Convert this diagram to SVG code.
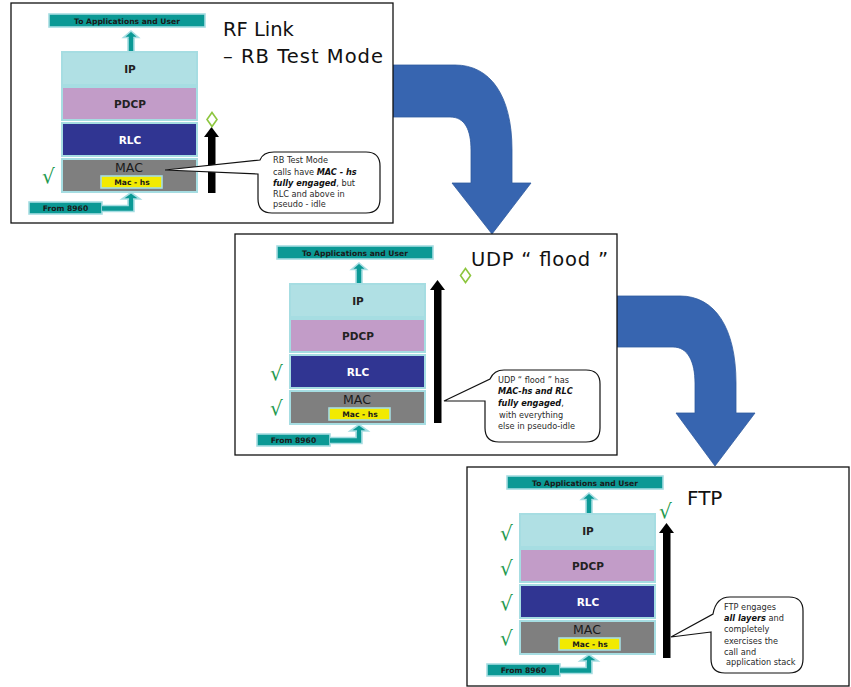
<svg xmlns="http://www.w3.org/2000/svg" width="851" height="687" viewBox="0 0 851 687">
<style>
.panel{fill:#fff;stroke:#111;stroke-width:1.3}
.teal{fill:#0b9995;stroke:#a6dde2;stroke-width:1.6}
.ip{fill:#b0e0e4;stroke:#a6dde2;stroke-width:2}
.pdcp{fill:#c29cc8;stroke:#a6dde2;stroke-width:2}
.rlc{fill:#303592;stroke:#a6dde2;stroke-width:2}
.mac{fill:#7f7f7f;stroke:#a6dde2;stroke-width:2}
.machs{fill:#f2ea00;stroke:#a6dde2;stroke-width:1.6}
.t{font-family:"DejaVu Sans","Liberation Sans",sans-serif}
.small{font-size:7.6px;font-weight:bold;fill:#1a1a1a;text-anchor:middle}
.layer{font-size:10.5px;font-weight:bold;fill:#222;text-anchor:middle}
.layerw{font-size:10.5px;font-weight:bold;fill:#fff;text-anchor:middle}
.macl{font-size:12.5px;fill:#1a1a1a;text-anchor:middle}
.title{font-size:19.5px;fill:#111}
.co{font-size:8.2px;fill:#2a2a2a}
.bi{font-weight:bold;font-style:italic;fill:#111}
.chk{font-family:"DejaVu Sans",sans-serif;font-size:20px;fill:#1f9a4f}
.callout{fill:#fff;stroke:#111;stroke-width:1.2}
.blk{fill:#000}
.big{fill:#3765b0;stroke:#2f5a9e;stroke-width:0.8}
.dia{fill:none;stroke:#8dc63f;stroke-width:1.6}
.link{fill:none;stroke-linejoin:miter}
</style>

<!-- big curved arrows (behind panels) -->
<g id="connectors">
<path class="big" d="M393,65 L455,65 C490,65 512,95 512,150 L512,183 L531,183 L492,234 L452,183 L471,183 L471,150 C471,130 465,117 450,117 L393,117 Z"/>
<path class="big" d="M617,296 L680,296 C715,296 736,328 736,383 L736,413 L755,413 L715,466 L676,413 L695,413 L695,383 C695,362 688,347 673,347 L617,347 Z"/>
</g>

<!-- PANEL 1 -->
<g id="panel1">
<rect class="panel" x="11" y="3" width="382" height="220"/>
<g id="p1-stack">
  <g id="p1-apps"><rect class="teal" x="49" y="14" width="156" height="13"/><text class="t small" x="127" y="23.5">To Applications and User</text></g>
  <g id="p1-uparrow"><rect class="teal" x="128" y="37" width="6" height="15"/><polygon class="teal" points="123.5,37.5 138.5,37.5 131,31"/><rect x="128.8" y="36" width="4.4" height="3" fill="#0b9995"/></g>
  <g id="p1-ip"><rect class="ip" x="62" y="52" width="135" height="33"/><text class="t layer" x="130" y="73">IP</text></g>
  <g id="p1-pdcp"><rect class="pdcp" x="62" y="87" width="135" height="33"/><text class="t layer" x="130" y="108">PDCP</text></g>
  <g id="p1-rlc"><rect class="rlc" x="62" y="123" width="135" height="33"/><text class="t layerw" x="130" y="144">RLC</text></g>
  <g id="p1-mac"><rect class="mac" x="62" y="159" width="135" height="33"/><text class="t macl" x="129" y="172">MAC</text></g>
  <g id="p1-machs"><rect class="machs" x="101" y="176" width="61" height="12"/><text class="t small" x="132" y="185">Mac - hs</text></g>
  <g id="p1-from"><rect class="teal" x="29" y="202" width="73" height="12"/><text class="t small" x="65.5" y="211">From 8960</text></g>
  <g id="p1-link"><path class="link" d="M102,208.5 H131 V199" stroke="#a6dde2" stroke-width="7.5"/><path class="link" d="M102,208.5 H131 V199" stroke="#0b9995" stroke-width="4.3"/><polygon class="teal" points="122,199 140,199 131,192.5"/><rect x="129" y="197" width="4" height="4" fill="#0b9995"/></g>
</g>
<text class="chk" x="42" y="183">√</text>
<g id="p1-bigarrow"><rect class="blk" x="208" y="136" width="7.5" height="57"/><polygon class="blk" points="204,137 219,137 211.5,127"/></g>
<polygon class="dia" points="212,112.5 217,119.5 212,126.5 207,119.5"/>
<text class="t title" x="223" y="36">RF Link</text>
<text class="t title" x="223" y="63" textLength="160">–  RB Test Mode</text>
<g id="p1-callout">
<path class="callout" d="M258,174 L165,170 L260,160 Q263,152 274,152 L366,152 Q380,152 380,166 L380,199 Q380,213 366,213 L272,213 Q258,213 258,199 Z"/>
<text class="t co" x="273" y="163">RB Test Mode</text>
<text class="t co" x="273" y="175">calls have  <tspan class="bi">MAC - hs</tspan></text>
<text class="t co" x="273" y="186"><tspan class="bi">fully engaged</tspan>, but</text>
<text class="t co" x="273" y="197">RLC and above in</text>
<text class="t co" x="273" y="207">pseudo - idle</text>
</g>
</g>

<!-- PANEL 2 -->
<g id="panel2">
<rect class="panel" x="235" y="234" width="382" height="221"/>
<g id="p2-stack" transform="translate(228,232)">
  <g id="p2-apps"><rect class="teal" x="49" y="14" width="156" height="13"/><text class="t small" x="127" y="23.5">To Applications and User</text></g>
  <g id="p2-uparrow"><rect class="teal" x="128" y="37" width="6" height="15"/><polygon class="teal" points="123.5,37.5 138.5,37.5 131,31"/><rect x="128.8" y="36" width="4.4" height="3" fill="#0b9995"/></g>
  <g id="p2-ip"><rect class="ip" x="62" y="52" width="135" height="33"/><text class="t layer" x="130" y="73">IP</text></g>
  <g id="p2-pdcp"><rect class="pdcp" x="62" y="87" width="135" height="33"/><text class="t layer" x="130" y="108">PDCP</text></g>
  <g id="p2-rlc"><rect class="rlc" x="62" y="123" width="135" height="33"/><text class="t layerw" x="130" y="144">RLC</text></g>
  <g id="p2-mac"><rect class="mac" x="62" y="159" width="135" height="33"/><text class="t macl" x="129" y="172">MAC</text></g>
  <g id="p2-machs"><rect class="machs" x="101" y="176" width="61" height="12"/><text class="t small" x="132" y="185">Mac - hs</text></g>
  <g id="p2-from"><rect class="teal" x="29" y="202" width="73" height="12"/><text class="t small" x="65.5" y="211">From 8960</text></g>
  <g id="p2-link"><path class="link" d="M102,208.5 H131 V199" stroke="#a6dde2" stroke-width="7.5"/><path class="link" d="M102,208.5 H131 V199" stroke="#0b9995" stroke-width="4.3"/><polygon class="teal" points="122,199 140,199 131,192.5"/><rect x="129" y="197" width="4" height="4" fill="#0b9995"/></g>
  <text class="chk" x="42" y="148">√</text>
  <text class="chk" x="42" y="183">√</text>
</g>
<g id="p2-bigarrow"><rect class="blk" x="434" y="289" width="7.5" height="134"/><polygon class="blk" points="430,290 445,290 437.5,280"/></g>
<polygon class="dia" points="465.5,268.5 470.5,275.5 465.5,282.5 460.5,275.5"/>
<text class="t title" x="471" y="266" textLength="137">UDP “ flood ”</text>
<g id="p2-callout">
<path class="callout" d="M485,401 L444,401 L490,379 Q494,370 504,370 L586,370 Q600,370 600,384 L600,428 Q600,442 586,442 L499,442 Q485,442 485,428 Z"/>
<text class="t co" x="498" y="383">UDP “ flood ” has</text>
<text class="t co bi" x="498" y="394">MAC-hs and RLC</text>
<text class="t co" x="498" y="406"><tspan class="bi">fully engaged</tspan>,</text>
<text class="t co" x="499" y="418">with everything</text>
<text class="t co" x="498" y="429">else in pseudo-idle</text>
</g>
</g>

<!-- PANEL 3 -->
<g id="panel3">
<rect class="panel" x="467" y="467" width="382" height="219"/>
<g id="p3-stack" transform="translate(458,462)">
  <g id="p3-apps"><rect class="teal" x="49" y="14" width="156" height="13"/><text class="t small" x="127" y="23.5">To Applications and User</text></g>
  <g id="p3-uparrow"><rect class="teal" x="128" y="37" width="6" height="15"/><polygon class="teal" points="123.5,37.5 138.5,37.5 131,31"/><rect x="128.8" y="36" width="4.4" height="3" fill="#0b9995"/></g>
  <g id="p3-ip"><rect class="ip" x="62" y="52" width="135" height="33"/><text class="t layer" x="130" y="73">IP</text></g>
  <g id="p3-pdcp"><rect class="pdcp" x="62" y="87" width="135" height="33"/><text class="t layer" x="130" y="108">PDCP</text></g>
  <g id="p3-rlc"><rect class="rlc" x="62" y="123" width="135" height="33"/><text class="t layerw" x="130" y="144">RLC</text></g>
  <g id="p3-mac"><rect class="mac" x="62" y="159" width="135" height="33"/><text class="t macl" x="129" y="172">MAC</text></g>
  <g id="p3-machs"><rect class="machs" x="101" y="176" width="61" height="12"/><text class="t small" x="132" y="185">Mac - hs</text></g>
  <g id="p3-from"><rect class="teal" x="29" y="202" width="73" height="12"/><text class="t small" x="65.5" y="211">From 8960</text></g>
  <g id="p3-link"><path class="link" d="M102,208.5 H131 V199" stroke="#a6dde2" stroke-width="7.5"/><path class="link" d="M102,208.5 H131 V199" stroke="#0b9995" stroke-width="4.3"/><polygon class="teal" points="122,199 140,199 131,192.5"/><rect x="129" y="197" width="4" height="4" fill="#0b9995"/></g>
  <text class="chk" x="42" y="78">√</text>
  <text class="chk" x="42" y="113">√</text>
  <text class="chk" x="42" y="148">√</text>
  <text class="chk" x="42" y="183">√</text>
</g>
<text class="chk" x="659" y="518">√</text>
<g id="p3-bigarrow"><rect class="blk" x="663" y="532" width="7.5" height="126"/><polygon class="blk" points="659,533 674,533 666.5,523"/></g>
<text class="t title" x="687" y="505" style="font-size:20px">FTP</text>
<g id="p3-callout">
<path class="callout" d="M711,632 L671,637 L713,614 Q716,597 730,597 L789,597 Q803,597 803,611 L803,659 Q803,673 789,673 L725,673 Q711,673 711,659 Z"/>
<text class="t co" x="724" y="610">FTP engages</text>
<text class="t co" x="724" y="621"><tspan class="bi">all layers</tspan>  and</text>
<text class="t co" x="724" y="632">completely</text>
<text class="t co" x="724" y="644">exercises the</text>
<text class="t co" x="724" y="655">call and</text>
<text class="t co" x="726" y="665">application stack</text>
</g>
</g>
</svg>
